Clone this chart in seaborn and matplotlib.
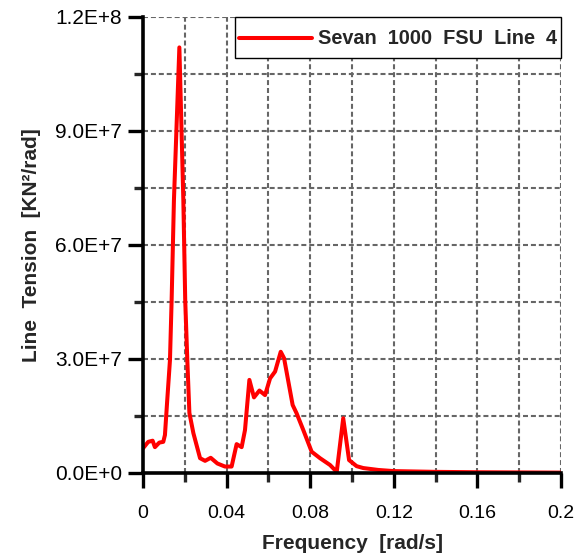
import matplotlib
matplotlib.use("Agg")
import matplotlib.pyplot as plt
import seaborn as sns
import pandas as pd
import numpy as np
from matplotlib.ticker import MultipleLocator, FixedLocator
from matplotlib.transforms import ScaledTranslation

freq = [0, 0.0025, 0.0046, 0.0057, 0.0078, 0.0097, 0.0105, 0.0116, 0.0129, 0.0137,
        0.0148, 0.0174, 0.0193, 0.0202, 0.0212, 0.0222, 0.0241, 0.0273, 0.0297, 0.0324,
        0.0356, 0.0392, 0.0424, 0.0448, 0.0472, 0.0488, 0.0509, 0.0531, 0.0557, 0.0584,
        0.0608, 0.0632, 0.0659, 0.0675, 0.0716, 0.0735, 0.0767, 0.0807, 0.0847, 0.0895,
        0.0927, 0.0958, 0.0986, 0.1022, 0.1054, 0.1126, 0.12, 0.14, 0.16, 0.18, 0.2]
tension = [6.5e6, 8.2e6, 8.5e6, 6.8e6, 8.0e6, 8.2e6, 1.0e7, 1.92e7, 2.97e7, 4.55e7,
           7.18e7, 1.12e8, 7.18e7, 4.55e7, 2.97e7, 1.58e7, 1.05e7, 3.9e6, 3.2e6, 4.0e6,
           2.5e6, 1.7e6, 1.7e6, 7.6e6, 6.8e6, 1.13e7, 2.45e7, 1.99e7, 2.17e7, 2.05e7,
           2.49e7, 2.67e7, 3.19e7, 3.02e7, 1.79e7, 1.57e7, 1.13e7, 5.6e6, 3.9e6, 2.1e6,
           3e5, 1.44e7, 3.4e6, 1.8e6, 1.3e6, 8e5, 5e5, 3e5, 2e5, 1.5e5, 1e5]
series_name = "Sevan  1000  FSU  Line  4"
x_ticks = [0, 0.04, 0.08, 0.12, 0.16, 0.2]
x_tick_labels = ["0", "0.04", "0.08", "0.12", "0.16", "0.2"]
y_ticks = [0, 3e7, 6e7, 9e7, 1.2e8]
y_tick_labels = ["0.0E+0", "3.0E+7", "6.0E+7", "9.0E+7", "1.2E+8"]

df = pd.DataFrame({"Frequency": freq, "Tension": tension, "Series": series_name})

sns.set_style("ticks")
plt.rcParams["font.family"] = ["Liberation Sans", "DejaVu Sans"]

fig = plt.figure(figsize=(5.85, 5.54), dpi=100)
ax = fig.add_axes([143/585, 1 - 473/554, (561-143)/585, (473-17)/554])

sns.lineplot(data=df, x="Frequency", y="Tension", hue="Series", palette=["#ff0000"],
             sort=False, estimator=None, linewidth=2.9, ax=ax, zorder=3)

ax.set_xlim(0, 0.2)
ax.set_ylim(0, 1.2e8)
ax.xaxis.set_major_locator(FixedLocator(x_ticks))
ax.set_xticklabels(x_tick_labels)
ax.xaxis.set_minor_locator(MultipleLocator(0.02))
ax.yaxis.set_major_locator(FixedLocator(y_ticks))
ax.set_yticklabels(y_tick_labels)
ax.yaxis.set_minor_locator(MultipleLocator(1.5e7))

ax.grid(which="both", color="#666666", linestyle=(0, (2.4, 1.4)), linewidth=1.5, zorder=0)
ax.set_axisbelow(True)

for s in ["top", "right"]:
    ax.spines[s].set_visible(False)
for s in ["left", "bottom"]:
    ax.spines[s].set_linewidth(2.6)
    ax.spines[s].set_color("black")
    ax.spines[s].set_zorder(4)

ax.tick_params(which="major", direction="out", length=11, width=2.4, colors="black")
ax.tick_params(which="minor", direction="out", length=6.5, width=2.4)
ax.tick_params(axis="x", which="major", pad=12, labelsize=14)
ax.tick_params(axis="y", which="major", pad=4, labelsize=15)

ax.set_xlabel("Frequency  [rad/s]", fontsize=15, fontweight="bold", labelpad=9)
ax.set_ylabel("Line  Tension  [KN²/rad]", fontsize=15, fontweight="bold", labelpad=10)

leg = ax.legend(loc="upper right", bbox_to_anchor=(1.0, 1.0), borderaxespad=0,
                frameon=True, fancybox=False, shadow=False, handlelength=3.7,
                handleheight=2.2, handletextpad=0.3, borderpad=0.2,
                prop={"weight": "bold", "size": 14.3})
leg.get_frame().set_edgecolor("black")
leg.get_frame().set_linewidth(1.0)
leg.get_frame().set_alpha(1)
for line in leg.get_lines():
    line.set_linewidth(2.9)
    line.set_transform(line.get_transform() + ScaledTranslation(0, -4/72, fig.dpi_scale_trans))
leg.set_zorder(5)

fig.savefig("out.png", dpi=100)
